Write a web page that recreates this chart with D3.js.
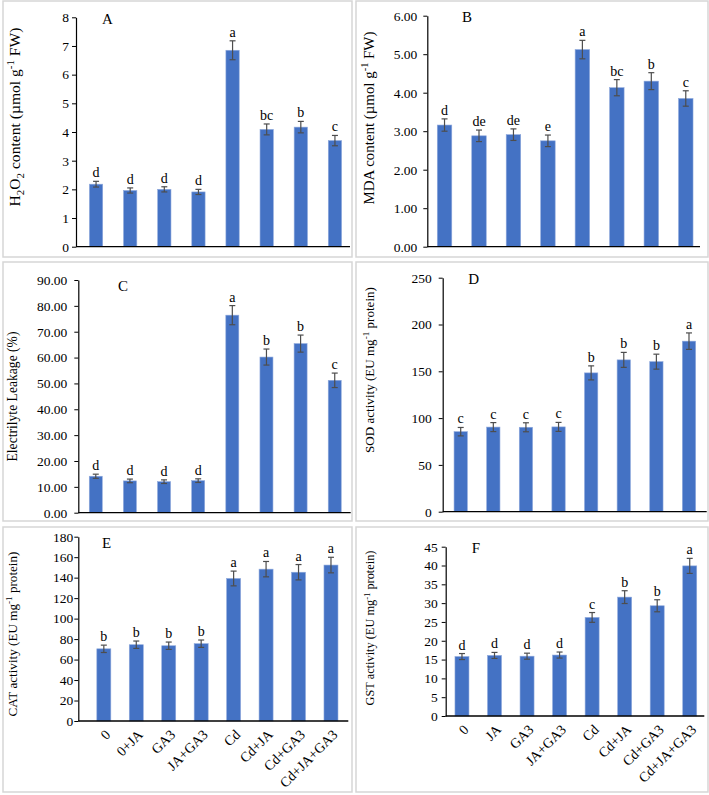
<!DOCTYPE html>
<html><head><meta charset="utf-8">
<script src="https://cdn.jsdelivr.net/npm/d3@7"></script>
<style>
body{margin:0;background:#fff}
svg{display:block}
text{font-family:"Liberation Serif","Times New Roman",Times,serif;fill:#000}
</style>
</head><body>
<svg id="chart" width="709" height="795"></svg>
<script>
// ---------------- data ----------------
const categoriesE = ["0","0+JA","GA3","JA+GA3","Cd","Cd+JA","Cd+GA3","Cd+JA+GA3"];
const categoriesF = ["0","JA","GA3","JA+GA3","Cd","Cd+JA","Cd+GA3","Cd+JA+GA3"];

const h2o2Values = [2.18, 1.96, 2.00, 1.91, 6.85, 4.09, 4.17, 3.70];
const h2o2Errors = [0.10, 0.09, 0.09, 0.09, 0.33, 0.19, 0.20, 0.18];
const h2o2Letters = ["d","d","d","d","a","bc","b","c"];

const mdaValues = [3.16, 2.88, 2.91, 2.75, 5.12, 4.13, 4.30, 3.85];
const mdaErrors = [0.16, 0.15, 0.15, 0.15, 0.24, 0.21, 0.22, 0.20];
const mdaLetters = ["d","de","de","e","a","bc","b","c"];

const elValues = [14.1, 12.3, 12.0, 12.4, 76.4, 60.2, 65.4, 51.2];
const elErrors = [0.8, 0.7, 0.7, 0.7, 3.7, 3.1, 3.3, 2.8];
const elLetters = ["d","d","d","d","a","b","b","c"];

const sodValues = [85.5, 90.4, 90.2, 90.6, 148.3, 162.2, 160.3, 182.2];
const sodErrors = [4.5, 4.8, 4.8, 4.8, 7.5, 8.0, 8.0, 8.8];
const sodLetters = ["c","c","c","c","b","b","b","a"];

const catValues = [70.5, 74.5, 73.5, 75.5, 139.2, 148.3, 145.3, 152.3];
const catErrors = [3.6, 3.6, 3.6, 3.6, 7.2, 7.5, 7.5, 7.6];
const catLetters = ["b","b","b","b","a","a","a","a"];

const gstValues = [15.8, 16.1, 15.9, 16.2, 26.2, 31.6, 29.3, 39.9];
const gstErrors = [0.8, 0.8, 0.8, 0.8, 1.3, 1.7, 1.6, 2.0];
const gstLetters = ["d","d","d","d","c","b","b","a"];

const yTicksA = [0,1,2,3,4,5,6,7,8];
const yTicksB = [0,1,2,3,4,5,6];
const yTicksC = [0,10,20,30,40,50,60,70,80,90];
const yTicksD = [0,50,100,150,200,250];
const yTicksE = [0,20,40,60,80,100,120,140,160,180];
const yTicksF = [0,5,10,15,20,25,30,35,40,45];

// ---------------- layout ----------------
const panels = [
  {letter:"A", values:h2o2Values, errors:h2o2Errors, letters:h2o2Letters, ticks:yTicksA, fmt:d3.format("d"), cats:categoriesE, showX:false,
   box:[3,1,349,256], axisX:76, y0:246.7, yTop:17.3, xEnd:350, band:[79,352], bw:13.3, pad:3,
   title:[["H","n"],["2","sub"],["O","n"],["2","sub"],[" content (µmol g","n"],["-1","sup"],[" FW)","n"]], tPos:[15,117], tLen:179, lPos:[102,23.5]},
  {letter:"B", values:mdaValues, errors:mdaErrors, letters:mdaLetters, ticks:yTicksB, fmt:d3.format(".2f"), cats:categoriesE, showX:false,
   box:[356,1,352,256], axisX:427.3, y0:246.7, yTop:15.7, xEnd:700, band:[427.3,703], bw:14.5, pad:6,
   title:[["MDA content (µmol g","n"],["-1","sup"],[" FW)","n"]], tPos:[369,118], tLen:173, lPos:[462,21.7]},
  {letter:"C", values:elValues, errors:elErrors, letters:elLetters, ticks:yTicksC, fmt:d3.format(".2f"), cats:categoriesE, showX:false,
   box:[3,262,349,259], axisX:78.3, y0:512.7, yTop:280, xEnd:350.7, band:[78.7,351.8], bw:13, pad:7,
   title:[["Electrilyte Leakage (%)","n"]], tPos:[12.5,396.5], tLen:130, lPos:[118,291]},
  {letter:"D", values:sodValues, errors:sodErrors, letters:sodLetters, ticks:yTicksD, fmt:d3.format("d"), cats:categoriesE, showX:false,
   box:[356,262,352,259], axisX:442.7, y0:511.7, yTop:277.7, xEnd:706.7, band:[444.4,705.3], bw:13.3, pad:7,
   title:[["SOD activity (EU mg","n"],["-1","sup"],[" protein)","n"]], tPos:[369,370], tLen:166, lPos:[468.3,284.3]},
  {letter:"E", values:catValues, errors:catErrors, letters:catLetters, ticks:yTicksE, fmt:d3.format("d"), cats:categoriesE, showX:true,
   box:[3,527,349,265], axisX:78.3, y0:721, yTop:536.7, xEnd:348.3, band:[87.6,347.2], bw:14, pad:1,
   title:[["CAT activity (EU mg","n"],["-1","sup"],[" protein)","n"]], tPos:[12,634], tLen:165, lPos:[102,548.3]},
  {letter:"F", values:gstValues, errors:gstErrors, letters:gstLetters, ticks:yTicksF, fmt:d3.format("d"), cats:categoriesF, showX:true,
   box:[356,527,352,265], axisX:445.7, y0:716, yTop:546.7, xEnd:704.3, band:[445.7,706], bw:14, pad:4,
   title:[["GST activity (EU mg","n"],["-1","sup"],[" protein)","n"]], tPos:[370,628], tLen:155, lPos:[471.7,553.3]}
];

const FONT = '"Liberation Serif","Times New Roman",Times,serif';
const svg = d3.select("#chart");
svg.append("rect").attr("width",709).attr("height",795).attr("fill","#fff");

panels.forEach(p => {
  const g = svg.append("g");
  g.append("rect").attr("x",p.box[0]).attr("y",p.box[1]).attr("width",p.box[2]).attr("height",p.box[3])
    .attr("fill","#fff").attr("stroke","#d6d6d6").attr("stroke-width",1.5);

  const ymax = p.ticks[p.ticks.length-1];
  const y = d3.scaleLinear().domain([0, ymax]).range([p.y0, p.yTop]);
  const x = d3.scaleBand().domain(p.cats).range(p.band).padding(0);
  const cx = c => x(c) + x.bandwidth()/2;

  const yAxis = d3.axisLeft(y).tickValues(p.ticks).tickFormat(p.fmt).tickSize(4).tickSizeOuter(0).tickPadding(p.pad);
  const ya = g.append("g").attr("transform",`translate(${p.axisX},0)`).call(yAxis);
  ya.select(".domain").attr("stroke","#000").attr("stroke-width",1.2);
  ya.selectAll(".tick line").attr("stroke","#000").attr("stroke-width",1);
  ya.selectAll(".tick text").attr("font-size",13.5).attr("font-family",FONT).attr("fill","#000");

  const data = p.cats.map((c,i) => ({c, v:p.values[i], e:p.errors[i], l:p.letters[i]}));
  g.selectAll("rect.bar").data(data).enter().append("rect").attr("class","bar")
    .attr("x", d => cx(d.c) - p.bw/2).attr("width", p.bw)
    .attr("y", d => y(d.v)).attr("height", d => y(0) - y(d.v))
    .attr("fill","#4472C4").attr("stroke","#8fa9dc").attr("stroke-width",0.6);

  const eg = g.selectAll("g.err").data(data).enter().append("g").attr("class","err")
    .attr("stroke","#4d4d4d").attr("stroke-width",1.2);
  eg.append("line").attr("x1",d=>cx(d.c)).attr("x2",d=>cx(d.c)).attr("y1",d=>y(d.v+d.e)).attr("y2",d=>y(d.v-d.e));
  eg.append("line").attr("x1",d=>cx(d.c)-3).attr("x2",d=>cx(d.c)+3).attr("y1",d=>y(d.v+d.e)).attr("y2",d=>y(d.v+d.e));
  eg.append("line").attr("x1",d=>cx(d.c)-3).attr("x2",d=>cx(d.c)+3).attr("y1",d=>y(d.v-d.e)).attr("y2",d=>y(d.v-d.e));

  g.selectAll("text.sig").data(data).enter().append("text").attr("class","sig")
    .attr("x",d=>cx(d.c)).attr("y",d=>y(d.v+d.e)-4).attr("text-anchor","middle")
    .attr("font-size",14).text(d=>d.l);

  g.append("line").attr("x1",p.axisX).attr("x2",p.xEnd).attr("y1",p.y0).attr("y2",p.y0)
    .attr("stroke","#000").attr("stroke-width",1.3);

  if (p.showX) {
    g.selectAll("text.xl").data(data).enter().append("text").attr("class","xl")
      .attr("transform", d => `translate(${cx(d.c)+4},${p.y0+11}) rotate(-45)`)
      .attr("text-anchor","end").attr("dy","0.35em").attr("font-size",14).text(d=>d.c);
  }

  g.append("text").attr("x",p.lPos[0]).attr("y",p.lPos[1]).attr("font-size",15).text(p.letter);

  const t = g.append("text").attr("text-anchor","middle").attr("font-size",13)
    .attr("transform",`translate(${p.tPos[0]},${p.tPos[1]}) rotate(-90)`).attr("dy","0.35em");
  p.title.forEach(([s,type]) => {
    const ts = t.append("tspan").text(s);
    if (type==="sub") { ts.attr("font-size","0.7em").attr("dy","0.35em"); }
    else if (type==="sup") { ts.attr("font-size","0.7em").attr("dy","-0.55em"); }
  });
  const spans = t.selectAll("tspan").nodes();
  for (let i=1;i<spans.length;i++){
    const prev = p.title[i-1][1], cur = p.title[i][1];
    if (cur==="n" && prev==="sub") d3.select(spans[i]).attr("dy", (-0.35*0.7)+"em");
    if (cur==="n" && prev==="sup") d3.select(spans[i]).attr("dy", (0.55*0.7)+"em");
  }
  const len = t.node().getComputedTextLength();
  if (len>0) t.attr("font-size", 13*p.tLen/len);
});
</script>
</body></html>
